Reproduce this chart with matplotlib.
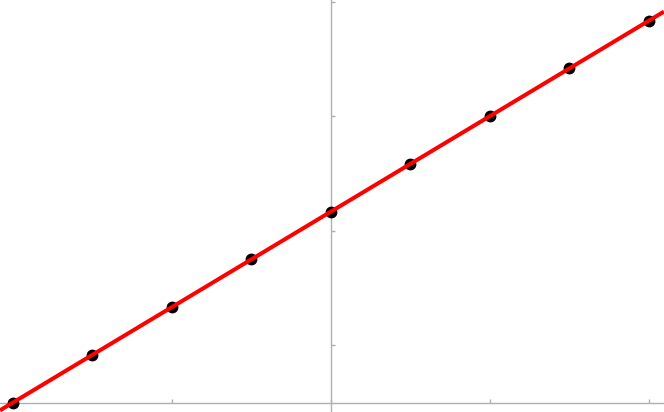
import numpy as np
import matplotlib
matplotlib.use("Agg")
import matplotlib.pyplot as plt
from matplotlib.ticker import MultipleLocator

# data points
x_vals = [-4, -3, -2, -1, 0, 1, 2, 3, 4]
y_vals = [0, 1, 2, 3, 4, 5, 6, 7, 8]

x_range = (-4.16, 4.19)
y_range = (-0.195, 8.433)

fig = plt.figure(figsize=(6.64, 4.12), dpi=100)
ax = fig.add_axes([0, 0, 1, 1])

# fitted line across the whole plot range
slope, intercept = np.polyfit(x_vals, y_vals, 1)
xs = np.array(x_range)
ax.plot(xs, slope * xs + intercept, color='#ff0000', linewidth=2.9, zorder=3,
        solid_capstyle='butt')
ax.plot(x_vals, y_vals, 'o', color='black', markersize=7.5, zorder=2)

ax.set_xlim(*x_range)
ax.set_ylim(*y_range)

# axes crossing like a math plot
for side in ('top', 'right'):
    ax.spines[side].set_visible(False)
ax.spines['left'].set_position(('data', 0))
ax.spines['bottom'].set_position(('data', 0))
for side in ('left', 'bottom'):
    ax.spines[side].set_color('#b0b0b0')
    ax.spines[side].set_linewidth(1.0)
    ax.spines[side].set_zorder(1)

ax.xaxis.set_major_locator(MultipleLocator(2))
ax.yaxis.set_major_locator(MultipleLocator(2.4, offset=1.2))
ax.tick_params(axis='both', direction='in', length=3, width=1.0,
               color='#b0b0b0', labelbottom=False, labelleft=False)

fig.savefig('out.png', dpi=100)
